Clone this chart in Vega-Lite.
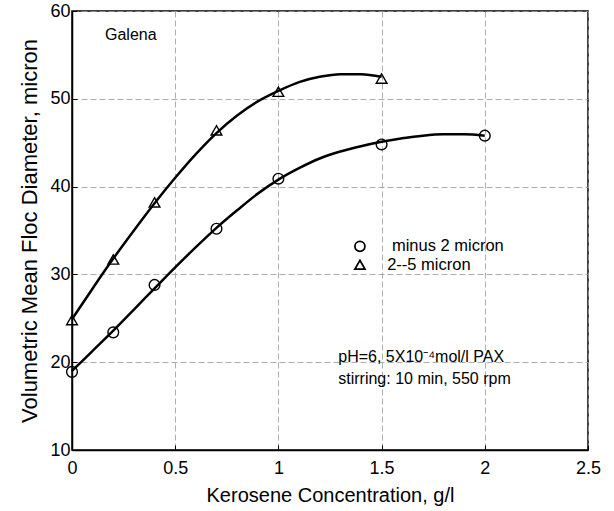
{
  "$schema": "https://vega.github.io/schema/vega-lite/v6.json",
  "width": 516,
  "height": 439,
  "autosize": {"type": "none"},
  "padding": {"left": 72, "top": 11, "right": 26, "bottom": 61},
  "background": "white",
  "config": {
    "font": "Liberation Sans",
    "view": {"stroke": "black", "strokeWidth": 1.5},
    "axis": {
      "labelFont": "Liberation Sans",
      "titleFont": "Liberation Sans",
      "labelFontSize": 18,
      "titleFontWeight": "normal",
      "labelColor": "black",
      "titleColor": "black",
      "domainColor": "black",
      "domainWidth": 1.5,
      "tickColor": "black",
      "tickSize": -5,
      "gridColor": "#999999",
      "gridDash": [6, 3],
      "gridWidth": 0.8,
      "gridOpacity": 1
    }
  },
  "datasets": {
    "curves": [
      {"series": "2--5 micron", "x": 0.0, "y": 24.9},
      {"series": "2--5 micron", "x": 0.1, "y": 28.4},
      {"series": "2--5 micron", "x": 0.2, "y": 31.8},
      {"series": "2--5 micron", "x": 0.3, "y": 35.0},
      {"series": "2--5 micron", "x": 0.4, "y": 38.1},
      {"series": "2--5 micron", "x": 0.5, "y": 41.0},
      {"series": "2--5 micron", "x": 0.6, "y": 43.7},
      {"series": "2--5 micron", "x": 0.7, "y": 46.1},
      {"series": "2--5 micron", "x": 0.8, "y": 48.1},
      {"series": "2--5 micron", "x": 0.9, "y": 49.7},
      {"series": "2--5 micron", "x": 1.0, "y": 50.9},
      {"series": "2--5 micron", "x": 1.1, "y": 51.9},
      {"series": "2--5 micron", "x": 1.2, "y": 52.5},
      {"series": "2--5 micron", "x": 1.3, "y": 52.8},
      {"series": "2--5 micron", "x": 1.4, "y": 52.8},
      {"series": "2--5 micron", "x": 1.5, "y": 52.5},
      {"series": "minus 2 micron", "x": 0.0, "y": 19.0},
      {"series": "minus 2 micron", "x": 0.1, "y": 21.3},
      {"series": "minus 2 micron", "x": 0.2, "y": 23.6},
      {"series": "minus 2 micron", "x": 0.3, "y": 26.0},
      {"series": "minus 2 micron", "x": 0.4, "y": 28.4},
      {"series": "minus 2 micron", "x": 0.5, "y": 30.8},
      {"series": "minus 2 micron", "x": 0.6, "y": 33.1},
      {"series": "minus 2 micron", "x": 0.7, "y": 35.3},
      {"series": "minus 2 micron", "x": 0.8, "y": 37.3},
      {"series": "minus 2 micron", "x": 0.9, "y": 39.2},
      {"series": "minus 2 micron", "x": 1.0, "y": 40.8},
      {"series": "minus 2 micron", "x": 1.1, "y": 42.1},
      {"series": "minus 2 micron", "x": 1.2, "y": 43.2},
      {"series": "minus 2 micron", "x": 1.3, "y": 44.0},
      {"series": "minus 2 micron", "x": 1.4, "y": 44.6},
      {"series": "minus 2 micron", "x": 1.5, "y": 45.1},
      {"series": "minus 2 micron", "x": 1.6, "y": 45.5},
      {"series": "minus 2 micron", "x": 1.7, "y": 45.8},
      {"series": "minus 2 micron", "x": 1.8, "y": 45.95},
      {"series": "minus 2 micron", "x": 1.9, "y": 45.95},
      {"series": "minus 2 micron", "x": 2.0, "y": 45.8}
    ],
    "points": [
      {"series": "2--5 micron", "x": 0.0, "y": 24.8},
      {"series": "2--5 micron", "x": 0.2, "y": 31.7},
      {"series": "2--5 micron", "x": 0.4, "y": 38.2},
      {"series": "2--5 micron", "x": 0.7, "y": 46.4},
      {"series": "2--5 micron", "x": 1.0, "y": 50.8},
      {"series": "2--5 micron", "x": 1.5, "y": 52.3},
      {"series": "minus 2 micron", "x": 0.0, "y": 18.9},
      {"series": "minus 2 micron", "x": 0.2, "y": 23.4},
      {"series": "minus 2 micron", "x": 0.4, "y": 28.8},
      {"series": "minus 2 micron", "x": 0.7, "y": 35.2},
      {"series": "minus 2 micron", "x": 1.0, "y": 40.9},
      {"series": "minus 2 micron", "x": 1.5, "y": 44.8},
      {"series": "minus 2 micron", "x": 2.0, "y": 45.8}
    ],
    "legend": [
      {"series": "minus 2 micron", "x": 1.395, "y": 33.2, "tx": 1.55},
      {"series": "2--5 micron", "x": 1.395, "y": 31.1, "tx": 1.527}
    ],
    "notes": [
      {"x": 0.16, "y": 57.3, "label": "Galena"},
      {"x": 1.29, "y": 20.6, "label": "pH=6, 5X10⁻⁴mol/l PAX"},
      {"x": 1.29, "y": 18.1, "label": "stirring: 10 min, 550 rpm"}
    ]
  },
  "layer": [
    {
      "data": {"name": "curves"},
      "mark": {"type": "line", "color": "black", "strokeWidth": 2.5, "interpolate": "monotone"},
      "encoding": {
        "x": {
          "field": "x", "type": "quantitative",
          "scale": {"domain": [0, 2.5], "nice": false},
          "axis": {"values": [0, 0.5, 1, 1.5, 2, 2.5], "format": "~g", "title": "Kerosene Concentration, g/l", "titleFontSize": 20, "labelPadding": 14, "titlePadding": 8, "labelFlush": false}
        },
        "y": {
          "field": "y", "type": "quantitative",
          "scale": {"domain": [10, 60], "nice": false},
          "axis": {"values": [10, 20, 30, 40, 50, 60], "title": "Volumetric Mean Floc Diameter, micron", "titleFontSize": 22, "labelPadding": 7, "titlePadding": 8, "labelFlush": false}
        },
        "detail": {"field": "series"}
      }
    },
    {
      "data": {"name": "points"},
      "mark": {"type": "point", "filled": false, "color": "black", "strokeWidth": 1.4, "size": 115, "opacity": 1},
      "encoding": {
        "x": {"field": "x", "type": "quantitative"},
        "y": {"field": "y", "type": "quantitative"},
        "shape": {
          "field": "series", "type": "nominal",
          "scale": {"domain": ["minus 2 micron", "2--5 micron"], "range": ["circle", "triangle-up"]},
          "legend": null
        }
      }
    },
    {
      "data": {"name": "legend"},
      "mark": {"type": "point", "filled": false, "color": "black", "strokeWidth": 1.8, "size": 100, "opacity": 1},
      "encoding": {
        "x": {"field": "x", "type": "quantitative"},
        "y": {"field": "y", "type": "quantitative"},
        "shape": {"field": "series", "type": "nominal", "legend": null}
      }
    },
    {
      "data": {"name": "legend"},
      "mark": {"type": "text", "align": "left", "baseline": "middle", "fontSize": 16.5, "color": "black"},
      "encoding": {
        "x": {"field": "tx", "type": "quantitative"},
        "y": {"field": "y", "type": "quantitative"},
        "text": {"field": "series"}
      }
    },
    {
      "data": {"name": "notes"},
      "mark": {"type": "text", "align": "left", "baseline": "middle", "fontSize": 16, "color": "black"},
      "encoding": {
        "x": {"field": "x", "type": "quantitative"},
        "y": {"field": "y", "type": "quantitative"},
        "text": {"field": "label"}
      }
    }
  ]
}
